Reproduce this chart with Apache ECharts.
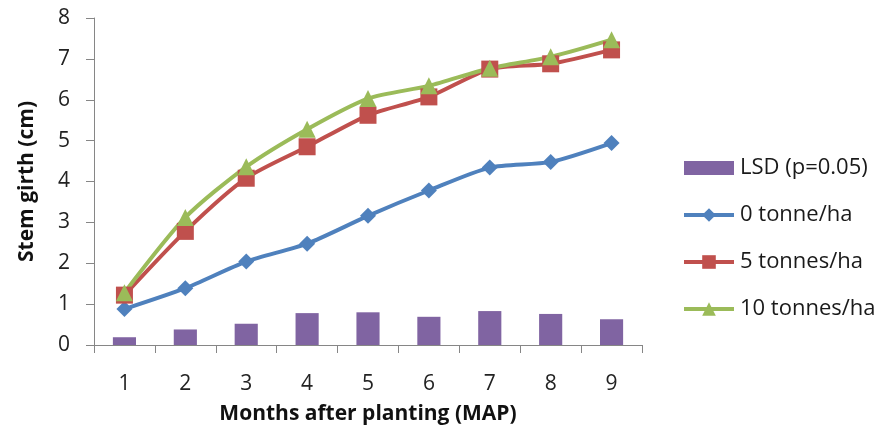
<!DOCTYPE html>
<html>
<head>
<meta charset="utf-8">
<script src="https://cdn.jsdelivr.net/npm/echarts@6/dist/echarts.min.js"></script>
<style>
  html, body { margin: 0; padding: 0; background: #fff; }
  #chart { width: 880px; height: 434px; }
</style>
</head>
<body>
<div id="chart"></div>
<script>
// Stem girth over months after planting, by manure rate, with LSD bars
const months = ['1', '2', '3', '4', '5', '6', '7', '8', '9'];
const lsd = [0.19, 0.38, 0.52, 0.78, 0.80, 0.69, 0.83, 0.76, 0.63];
const rate0 = [0.88, 1.39, 2.04, 2.48, 3.16, 3.78, 4.34, 4.48, 4.94];
const rate5 = [1.22, 2.78, 4.08, 4.85, 5.62, 6.07, 6.75, 6.88, 7.22];
const rate10 = [1.28, 3.12, 4.36, 5.28, 6.03, 6.34, 6.77, 7.05, 7.47];
const yTicks = [0, 1, 2, 3, 4, 5, 6, 7, 8];

const font = '"Open Sans", Lato, sans-serif';
const axisGrey = '#868686';

const chart = echarts.init(document.getElementById('chart'), null, { renderer: 'canvas' });

function lineSeries(name, data, color, symbol, size) {
  return {
    name: name,
    type: 'line',
    data: data,
    smooth: 0.25,
    symbol: symbol,
    symbolSize: size,
    lineStyle: { color: color, width: 4 },
    itemStyle: { color: color },
    z: 3
  };
}

chart.setOption({
  animation: false,
  textStyle: { fontFamily: font },
  grid: { left: 94, right: 238, top: 18, bottom: 89 },
  legend: {
    orient: 'vertical',
    left: 677,
    top: 152,
    itemGap: 25,
    itemWidth: 50,
    itemHeight: 17,
    lineStyle: { width: 4 },
    textStyle: { fontFamily: font, fontSize: 22, color: '#1a1a1a', padding: [0, 0, 0, 1] },
    data: [
      { name: 'LSD (p=0.05)', icon: 'path://M0,2 L50,2 L50,16 L0,16 Z', itemStyle: { color: '#8064A2' } },
      '0 tonne/ha', '5 tonnes/ha', '10 tonnes/ha'
    ]
  },
  xAxis: {
    type: 'category',
    data: months,
    boundaryGap: true,
    name: 'Months after planting (MAP)',
    nameLocation: 'middle',
    nameGap: 59,
    nameTextStyle: { fontFamily: font, fontSize: 21, fontWeight: 'bold', color: '#111' },
    axisLine: { lineStyle: { color: axisGrey, width: 1 } },
    axisTick: { show: true, length: 8, alignWithLabel: false, lineStyle: { color: axisGrey } },
    axisLabel: { fontSize: 21, color: '#222', margin: 29 }
  },
  yAxis: {
    type: 'value',
    min: yTicks[0],
    max: yTicks[yTicks.length - 1],
    interval: 1,
    name: 'Stem girth (cm)',
    nameLocation: 'middle',
    nameGap: 56,
    nameRotate: 90,
    nameTextStyle: { fontFamily: font, fontSize: 21, fontWeight: 'bold', color: '#111' },
    axisLine: { show: true, lineStyle: { color: axisGrey, width: 1 } },
    axisTick: { show: true, length: 8, lineStyle: { color: axisGrey } },
    splitLine: { show: false },
    axisLabel: { fontSize: 21, color: '#222', margin: 24 }
  },
  series: [
    {
      name: 'LSD (p=0.05)',
      type: 'bar',
      data: lsd,
      barWidth: '38%',
      itemStyle: { color: '#8064A2' },
      z: 2
    },
    lineSeries('0 tonne/ha', rate0, '#4F81BD', 'diamond', 16),
    lineSeries('5 tonnes/ha', rate5, '#C0504D', 'rect', 17),
    lineSeries('10 tonnes/ha', rate10, '#9BBB59', 'triangle', 17)
  ]
});
</script>
</body>
</html>
